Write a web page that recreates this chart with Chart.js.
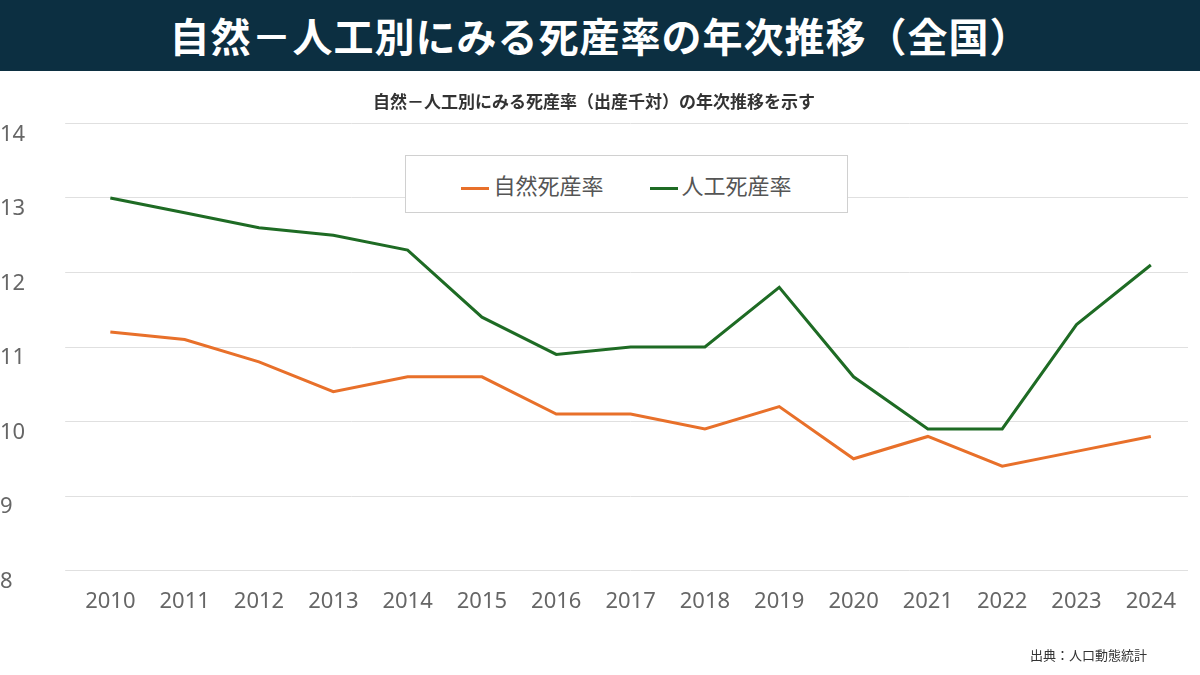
<!DOCTYPE html>
<html><head><meta charset="utf-8">
<script src="https://cdn.jsdelivr.net/npm/chart.js@4/dist/chart.umd.min.js"></script>
<style>
body{margin:0;width:1200px;height:675px;background:#fff;font-family:"Noto Sans CJK JP",sans-serif;position:relative;overflow:hidden}
#banner{position:absolute;left:0;top:0;width:1200px;height:71px;background:#0c2f41;color:#fff;font-weight:bold;font-size:40px;text-align:center;line-height:71px;letter-spacing:1px}
#wrap{position:absolute;left:0;top:71px;width:1200px;height:604px}
#legend{position:absolute;left:405px;top:155px;width:441px;height:56px;border:1px solid #d0d0d0;background:#fff;display:flex;align-items:center;justify-content:center;gap:46px;font-size:22px;color:#555}
#legend span.l{display:inline-block;width:28px;height:3px;vertical-align:middle;margin-right:4px}
#src{position:absolute;left:1030px;top:645px;font-size:13px;color:#333}
</style></head><body>
<div id="banner">自然－人工別にみる死産率の年次推移（全国）</div>
<div id="wrap"><canvas id="c" width="1200" height="604"></canvas></div>
<div id="legend"><div><span class="l" style="background:#e8702a"></span>自然死産率</div><div><span class="l" style="background:#1e6b24"></span>人工死産率</div></div>
<div id="src">出典：人口動態統計</div>
<script>
const years=["2010","2011","2012","2013","2014","2015","2016","2017","2018","2019","2020","2021","2022","2023","2024"];
const natural=[11.2,11.1,10.8,10.4,10.6,10.6,10.1,10.1,9.9,10.2,9.5,9.8,9.4,9.6,9.8];
const artificial=[13.0,12.8,12.6,12.5,12.3,11.4,10.9,11.0,11.0,11.8,10.6,9.9,9.9,11.3,12.1];
new Chart(document.getElementById('c'),{type:'line',
data:{labels:years,datasets:[
{label:'自然死産率',data:natural,borderColor:'#e8702a',backgroundColor:'#e8702a',borderWidth:3,pointRadius:0,tension:0},
{label:'人工死産率',data:artificial,borderColor:'#1e6b24',backgroundColor:'#1e6b24',borderWidth:3,pointRadius:0,tension:0}]},
options:{responsive:false,animation:false,
layout:{padding:{left:0,right:12,top:0,bottom:50}},
plugins:{legend:{display:false},tooltip:{enabled:false},
title:{display:true,text:'自然－人工別にみる死産率（出産千対）の年次推移を示す',color:'#333',font:{size:17,family:'"Noto Sans CJK JP"'},padding:{top:20,bottom:12}}},
scales:{
x:{offset:true,grid:{display:false},border:{display:false},ticks:{color:'#666',font:{size:22,family:'"Noto Sans"'},padding:10}},
y:{min:8,max:14,ticks:{stepSize:1,color:'#666',font:{size:22,family:'"Noto Sans"'},padding:20,align:'start',crossAlign:'far'},grid:{color:'#e0e0e0'},border:{display:false}}}}});
</script></body></html>
